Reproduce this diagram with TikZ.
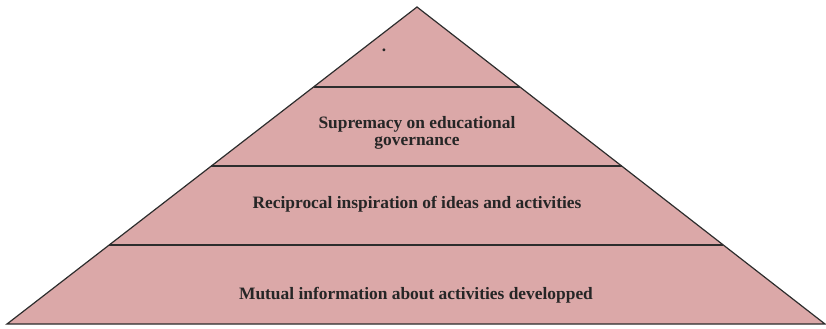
\documentclass[tikz,border=0pt]{standalone}
\usepackage{fontspec}
\setmainfont{Liberation Serif}
\usetikzlibrary{calc}
\definecolor{layerpink}{RGB}{219,168,168}
\definecolor{edgegray}{RGB}{45,45,45}

\begin{document}
\begin{tikzpicture}[x=0.5pt,y=-0.5pt]
\tikzset{label text/.style={font=\bfseries\fontsize{8.7}{8.6}\selectfont,text=black!85,align=center}}
\useasboundingbox (0,0) rectangle (826,328);
% the pyramid
\coordinate (apex) at (417,7);
\coordinate (bl) at (7,324);
\coordinate (br) at (825,324);
\filldraw[fill=layerpink,draw=edgegray,line width=0.6pt,line join=miter] (apex) -- (bl) -- (br) -- cycle;
% layer borders
\foreach \y in {87,166,245}
  \draw[edgegray,line width=0.7pt] ($(apex)!{(\y-7)/317}!(bl)$) -- ($(apex)!{(\y-7)/317}!(br)$);
% labels
\node[label text] (top) at (384,50) {.};
\node[label text] (gov) at (417,133) {Supremacy on educational\\governance};
\node[label text] (insp) at (417,204) {Reciprocal inspiration of ideas and activities};
\node[label text] (info) at (416,295) {Mutual information about activities developped};
\end{tikzpicture}
\end{document}
